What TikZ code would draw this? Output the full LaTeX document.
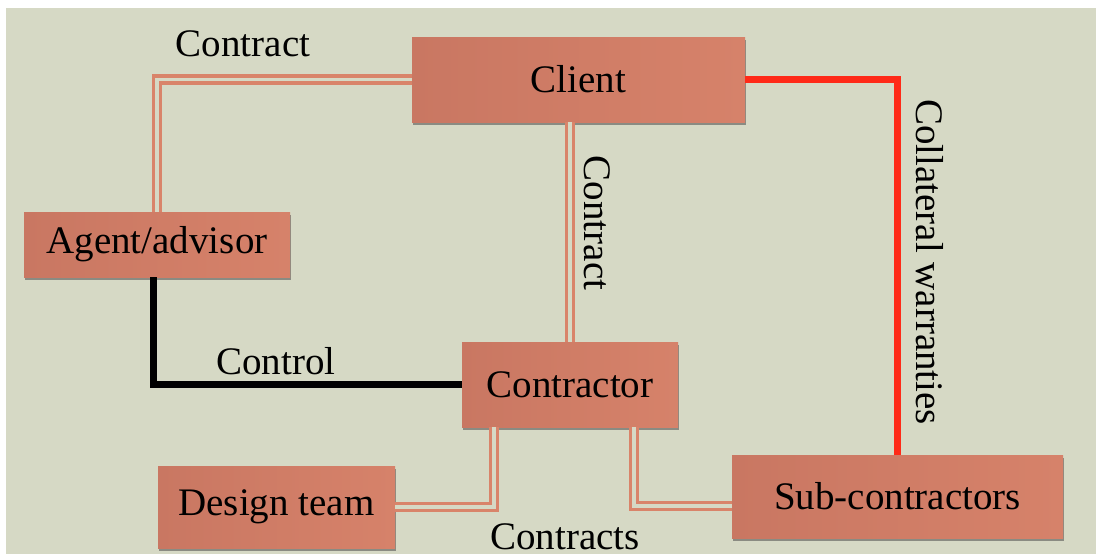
\documentclass[tikz,border=0pt]{standalone}
\usepackage{fontspec}
\setmainfont{Liberation Serif}
\usetikzlibrary{shadows,calc}
\definecolor{bg}{HTML}{D6D9C5}
\definecolor{boxl}{HTML}{C97762}
\definecolor{boxr}{HTML}{D6826A}
\definecolor{dline}{HTML}{D9846A}
\definecolor{redline}{HTML}{FF2A18}
\tikzset{
  box/.style={rectangle, left color=boxl, right color=boxr, draw=none,
    inner sep=0pt, font=\fontsize{39}{44}\selectfont,
    drop shadow={shadow xshift=1pt, shadow yshift=-3pt, opacity=0.55, fill=black!70}},
  lbl/.style={font=\fontsize{39}{44}\selectfont, inner sep=0pt},
  dbl/.style={draw=dline, line width=3.3pt, double=bg, double distance=3.5pt},
  redc/.style={draw=redline, line width=6.5pt},
  blackc/.style={draw=black, line width=7pt}
}
\begin{document}
\begin{tikzpicture}[x=1pt,y=-1pt]
\useasboundingbox (0,0) rectangle (1096,554);
\fill[white] (0,0) rectangle (1096,554);
\fill[bg] (6,8) rectangle (1096,554);

\node[box, minimum width=333pt, minimum height=85pt] (client) at (578.5,79.5) {Client};
\node[box, minimum width=266pt, minimum height=65pt] (agent) at (157,244.5) {Agent/advisor};
\node[box, minimum width=216pt, minimum height=85pt] (contractor) at (570,384.5) {Contractor};
\node[box, minimum width=237pt, minimum height=82pt] (design) at (276.5,507) {Design team};
\node[box, minimum width=331pt, minimum height=83pt] (sub) at (897.5,496.5) {Sub-contractors};

\draw[dbl] (agent.north) |- (client.west);
\draw[dbl] (contractor.north) -- (contractor.north |- client.south);
\draw[redc] (client.east) -| (sub.north);
\draw[blackc] ([xshift=-4pt]agent.south) |- (contractor.west);
\draw[dbl] ([xshift=-76pt]contractor.south) |- (design.east);
\draw[dbl] ([xshift=64pt]contractor.south) |- ([yshift=-9.5pt]sub.west);

\node[lbl] (lcontract) at (243,44) {Contract};
\node[lbl, rotate=-90] (lcontract2) at (597,223) {Contract};
\node[lbl, rotate=-90] (lcoll) at (930,262) {Collateral warranties};
\node[lbl] (lcontrol) at (276,361) {Control};
\node[lbl] (lcontracts) at (565,537) {Contracts};
\end{tikzpicture}
\end{document}
